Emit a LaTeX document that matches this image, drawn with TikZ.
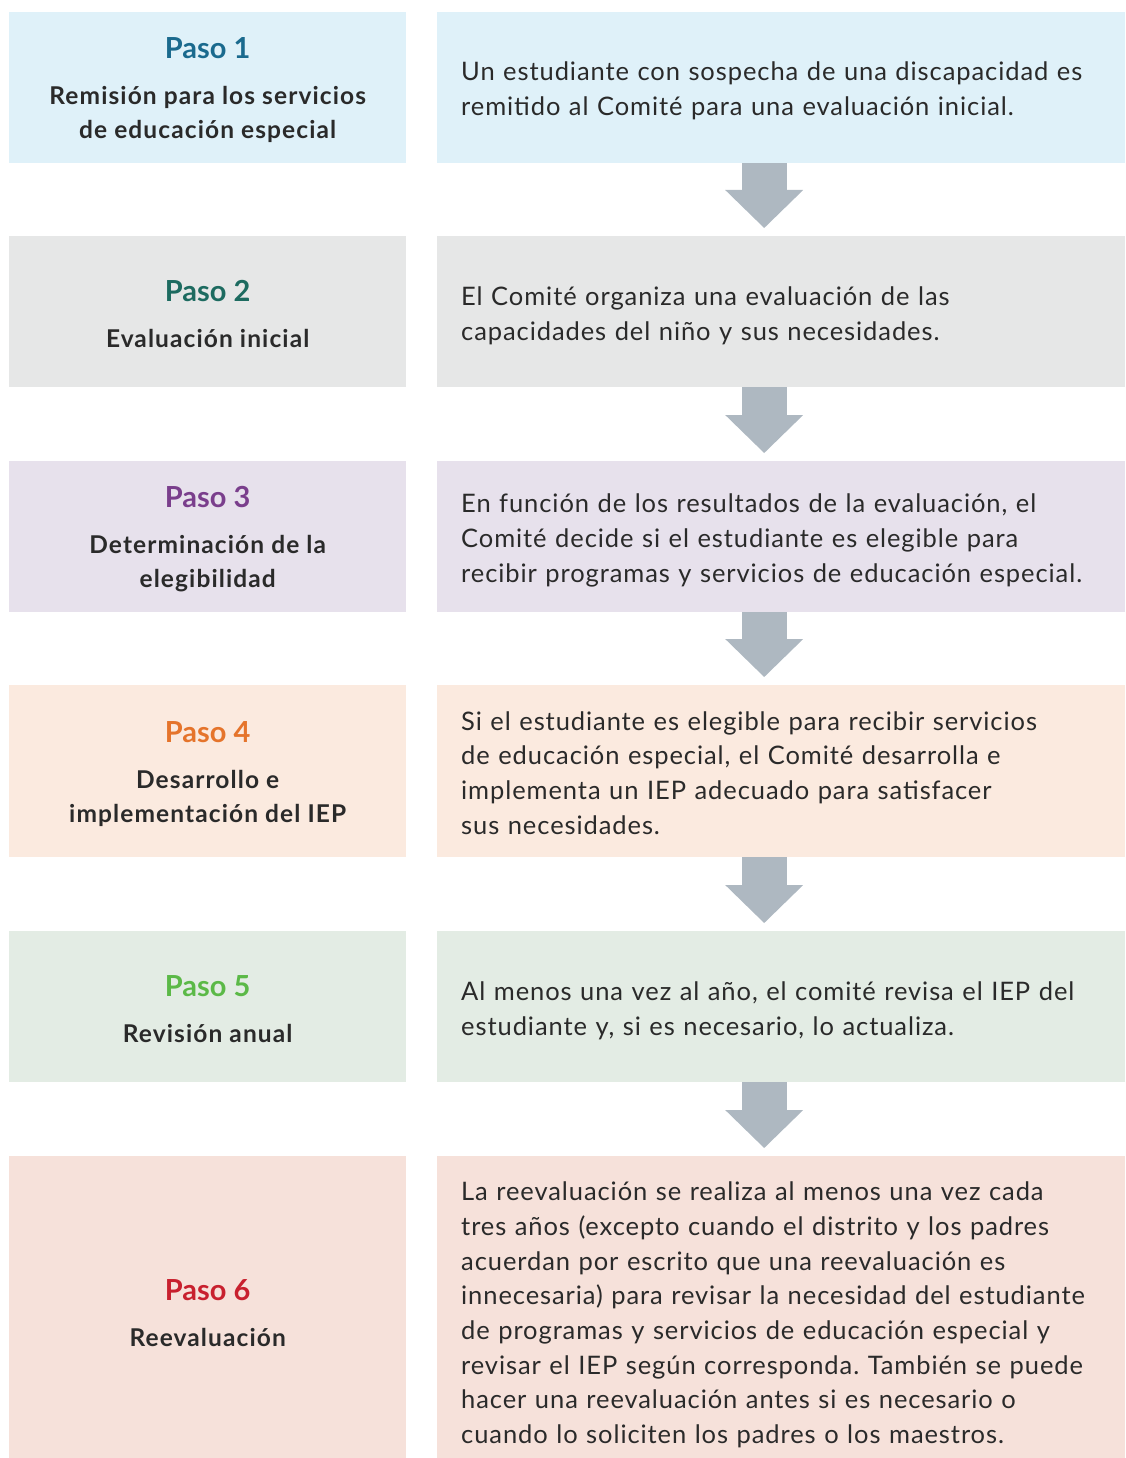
\documentclass[tikz,border=0pt]{standalone}
\usepackage{fontspec}
\setmainfont{Lato}
\newfontfamily\bodyface{Lato}[LetterSpace=3.6]
\newfontfamily\stepface{Lato}[LetterSpace=4.5]
\usetikzlibrary{arrows.meta,positioning}
\frenchspacing

\definecolor{cellone}{HTML}{DFF1F9}
\definecolor{celltwo}{HTML}{E6E7E7}
\definecolor{cellthree}{HTML}{E7E1EC}
\definecolor{cellfour}{HTML}{FBEADF}
\definecolor{cellfive}{HTML}{E3ECE4}
\definecolor{cellsix}{HTML}{F6E1DA}
\definecolor{pasoone}{HTML}{1A6A8E}
\definecolor{pasotwo}{HTML}{1D6B60}
\definecolor{pasothree}{HTML}{7A3E8C}
\definecolor{pasofour}{HTML}{E5742B}
\definecolor{pasofive}{HTML}{5BB947}
\definecolor{pasosix}{HTML}{C8202E}
\definecolor{flowgray}{HTML}{AEB8C1}
\definecolor{inktext}{HTML}{2A2A2A}

% step label: [drop]{colour}{number}{title}
\newcommand{\steplines}[4][2.5pt]{\raisebox{-#1}[\height][\depth]{\parbox{380pt}{\centering
    {\rmfamily\fontsize{29}{33.5}\selectfont\color{#2}Paso #3}\\[12.5pt]#4}}}
% description: [drop]{lines}
\newcommand{\infolines}[2][4pt]{\raisebox{-#1}[\height][\depth]{\begin{tabular}{@{}l@{}}#2\end{tabular}}}

\begin{document}
\begin{tikzpicture}[x=1pt,y=-1pt,
    stepcell/.style={fill=#1, anchor=north west, inner xsep=8.5pt, inner ysep=0pt,
        minimum width=397pt, text=inktext,
        font=\stepface\fontsize{24.5}{33.5}\selectfont\bfseries},
    infocell/.style={fill=#1, anchor=north west, inner xsep=24pt, inner ysep=0pt,
        text width=640pt, align=left, text=inktext,
        font=\bodyface\fontsize{25.5}{34.7}\selectfont},
    flow/.style={draw=flowgray, line width=45pt,
        -{Triangle[width=78pt,length=38pt,line width=0pt]}, shorten >=8pt}]
\useasboundingbox (0,0) rectangle (1125,1458);

% left column
\node[stepcell=cellone, minimum height=151pt] (s1) at (9,12)
    {\steplines{pasoone}{1}{Remisión para los servicios\\de educación especial}};
\node[stepcell=celltwo, minimum height=151pt] (s2) at (9,236)
    {\steplines{pasotwo}{2}{Evaluación inicial}};
\node[stepcell=cellthree, minimum height=151pt] (s3) at (9,461)
    {\steplines{pasothree}{3}{Determinación de la\\elegibilidad}};
\node[stepcell=cellfour, minimum height=172pt] (s4) at (9,685)
    {\steplines[3pt]{pasofour}{4}{Desarrollo e\\implementación del IEP}};
\node[stepcell=cellfive, minimum height=151pt] (s5) at (9,931)
    {\steplines[2pt]{pasofive}{5}{Revisión anual}};
\node[stepcell=cellsix, minimum height=302pt] (s6) at (9,1156)
    {\steplines[5.5pt]{pasosix}{6}{Reevaluación}};

% right column
\node[infocell=cellone, minimum height=151pt] (r1) at (437,12)
    {\infolines[3.5pt]{Un estudiante con sospecha de una discapacidad es\\
    remitido al Comité para una evaluación inicial.}};
\node[infocell=celltwo, minimum height=151pt] (r2) at (437,236)
    {\infolines[4.5pt]{El Comité organiza una evaluación de las\\
    capacidades del niño y sus necesidades.}};
\node[infocell=cellthree, minimum height=151pt] (r3) at (437,461)
    {\infolines{En función de los resultados de la evaluación, el\\
    Comité decide si el estudiante es elegible para\\
    recibir programas y servicios de educación especial.}};
\node[infocell=cellfour, minimum height=172pt] (r4) at (437,685)
    {\infolines{Si el estudiante es elegible para recibir servicios\\
    de educación especial, el Comité desarrolla e\\
    implementa un IEP adecuado para satisfacer\\
    sus necesidades.}};
\node[infocell=cellfive, minimum height=151pt] (r5) at (437,931)
    {\infolines{Al menos una vez al año, el comité revisa el IEP del\\
    estudiante y, si es necesario, lo actualiza.}};
\node[infocell=cellsix, minimum height=302pt] (r6) at (437,1156)
    {\infolines[8pt]{La reevaluación se realiza al menos una vez cada\\
    tres años (excepto cuando el distrito y los padres\\
    acuerdan por escrito que una reevaluación es\\
    innecesaria) para revisar la necesidad del estudiante\\
    de programas y servicios de educación especial y\\
    revisar el IEP según corresponda. También se puede\\
    hacer una reevaluación antes si es necesario o\\
    cuando lo soliciten los padres o los maestros.}};

% arrows between steps
\foreach \A/\B in {r1/r2,r2/r3,r3/r4,r4/r5,r5/r6}
    \draw[flow] ([xshift=-17pt]\A.south) -- ([xshift=-17pt]\B.north);
\end{tikzpicture}
\end{document}
